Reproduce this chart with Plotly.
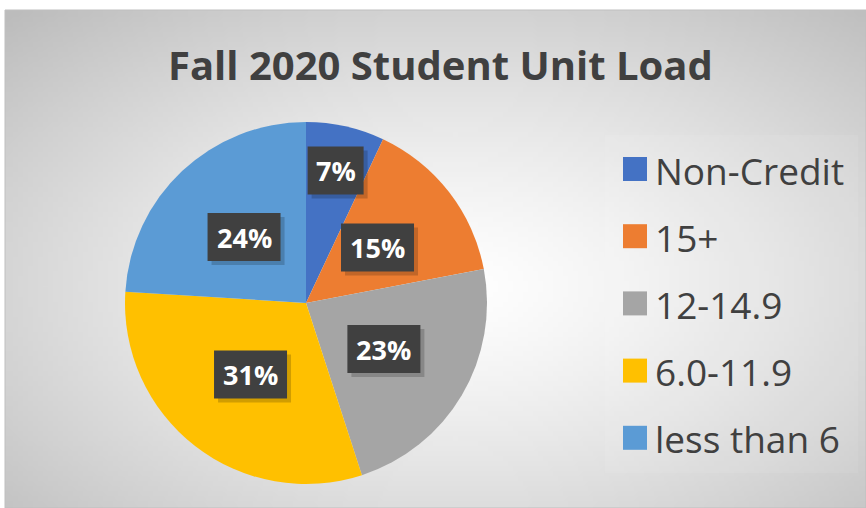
import base64, struct, zlib, math
import numpy as np
import plotly.graph_objects as go

# ---- data ----
categories = ["Non-Credit", "15+", "12-14.9", "6.0-11.9", "less than 6"]
shares = [7, 15, 23, 31, 24]
colors = ["#4472C4", "#ED7D31", "#A5A5A5", "#FFC000", "#5B9BD5"]
title_text = "Fall 2020 Student Unit Load"

W, H = 866, 508

# ---- radial gradient background as an inline PNG ----
def gradient_png(w, h, cx, cy, c_edge=188):
    ys, xs = np.mgrid[0:h, 0:w]
    d = np.sqrt(((xs - cx) / w) ** 2 + ((ys - cy) / h) ** 2)
    dmax = d.max()
    t = np.clip(d / dmax, 0, 1) ** 1.3
    v = (255 - (255 - c_edge) * t).astype(np.uint8)
    raw = b"".join(b"\x00" + bytes(np.stack([row, row, row], axis=1).flatten()) for row in v)
    def chunk(tag, data):
        c = struct.pack(">I", len(data)) + tag + data
        return c + struct.pack(">I", zlib.crc32(tag + data) & 0xFFFFFFFF)
    png = b"\x89PNG\r\n\x1a\n" + chunk(b"IHDR", struct.pack(">IIBBBBB", w, h, 8, 2, 0, 0, 0))
    png += chunk(b"IDAT", zlib.compress(raw, 9)) + chunk(b"IEND", b"")
    return "data:image/png;base64," + base64.b64encode(png).decode()

gw, gh = 172, 100
bg_src = gradient_png(gw, gh, gw * 0.52, gh * 0.55)

# ---- layout constants ----
chart_x0, chart_y0 = 5, 10             # chart area top-left (px)
pie_cx, pie_cy, pie_r = 306, 303, 181  # pie geometry (px from top-left)
dom_x = [(pie_cx - pie_r) / W, (pie_cx + pie_r) / W]
dom_y = [1 - (pie_cy + pie_r) / H, 1 - (pie_cy - pie_r) / H]

def px2x(px):
    return px / W

def py2y(py):
    return 1 - py / H

fig = go.Figure(go.Pie(
    labels=categories, values=shares, sort=False, direction="clockwise",
    rotation=0, marker=dict(colors=colors, line=dict(width=0)),
    textinfo="none", hoverinfo="label+percent", showlegend=False,
    domain=dict(x=dom_x, y=dom_y),
))

annotations = []
shapes = []

# chart border
shapes.append(dict(type="rect", xref="paper", yref="paper",
                   x0=px2x(chart_x0), x1=1, y0=0, y1=py2y(chart_y0),
                   line=dict(color="#BFBFBF", width=1), layer="above"))
# subtle legend panel
shapes.append(dict(type="rect", xref="paper", yref="paper",
                   x0=px2x(605), x1=px2x(858), y0=py2y(473), y1=py2y(135),
                   fillcolor="rgba(255,255,255,0.08)", line=dict(width=0), layer="below"))

# data labels (dark boxes) placed from the slice angles
total = sum(shares)
cum = 0
cx_px = (dom_x[0] + dom_x[1]) / 2 * W
cy_px = (1 - (dom_y[0] + dom_y[1]) / 2) * H
box_h = 48
for v in shares:
    mid = (cum + v / 2) / total * 2 * math.pi
    cum += v
    frac = 0.75 if v < 10 else 0.5
    px = cx_px + frac * pie_r * math.sin(mid)
    py = cy_px - frac * pie_r * math.cos(mid)
    txt = f"{round(v / total * 100)}%"
    bw = 22 + 17 * len(txt)
    # shadow
    shapes.append(dict(type="rect", xref="paper", yref="paper",
                       x0=px2x(px - bw / 2 + 4), x1=px2x(px + bw / 2 + 4),
                       y0=py2y(py + box_h / 2 + 4), y1=py2y(py - box_h / 2 + 4),
                       fillcolor="rgba(0,0,0,0.18)", line=dict(width=0)))
    shapes.append(dict(type="rect", xref="paper", yref="paper",
                       x0=px2x(px - bw / 2), x1=px2x(px + bw / 2),
                       y0=py2y(py + box_h / 2), y1=py2y(py - box_h / 2),
                       fillcolor="#404040", line=dict(width=0)))
    annotations.append(dict(x=px2x(px), y=py2y(py), xref="paper", yref="paper",
                            text=txt, showarrow=False, xanchor="center", yanchor="middle",
                            font=dict(family="Open Sans", size=27, color="white", weight="bold")))

# custom legend with large square keys
leg_x0, leg_top, leg_gap, sq = 623, 169, 67.2, 24
for i, (cat, col) in enumerate(zip(categories, colors)):
    yc = leg_top + i * leg_gap
    shapes.append(dict(type="rect", xref="paper", yref="paper",
                       x0=px2x(leg_x0), x1=px2x(leg_x0 + sq),
                       y0=py2y(yc + sq / 2), y1=py2y(yc - sq / 2),
                       fillcolor=col, line=dict(width=0)))
    annotations.append(dict(x=px2x(leg_x0 + sq + 6), y=py2y(yc + 1), xref="paper", yref="paper",
                            text=cat, showarrow=False, xanchor="left", yanchor="middle",
                            font=dict(family="Open Sans", size=37, color="#404040")))

# title
annotations.append(dict(x=px2x(440), y=py2y(64), xref="paper", yref="paper",
                        text=title_text, showarrow=False, xanchor="center", yanchor="middle",
                        font=dict(family="Open Sans", size=40, color="#404040", weight="bold")))

fig.update_layout(
    width=W, height=H, margin=dict(l=0, r=0, t=0, b=0),
    paper_bgcolor="white", plot_bgcolor="white",
    images=[dict(source=bg_src, xref="paper", yref="paper",
                 x=px2x(chart_x0), y=py2y(chart_y0), sizex=1 - px2x(chart_x0), sizey=1 - chart_y0 / H,
                 xanchor="left", yanchor="top", sizing="stretch", layer="below")],
    shapes=shapes, annotations=annotations,
)

fig.write_html("out.html", config={"displayModeBar": False},
               post_script="document.body.style.margin='0';")
